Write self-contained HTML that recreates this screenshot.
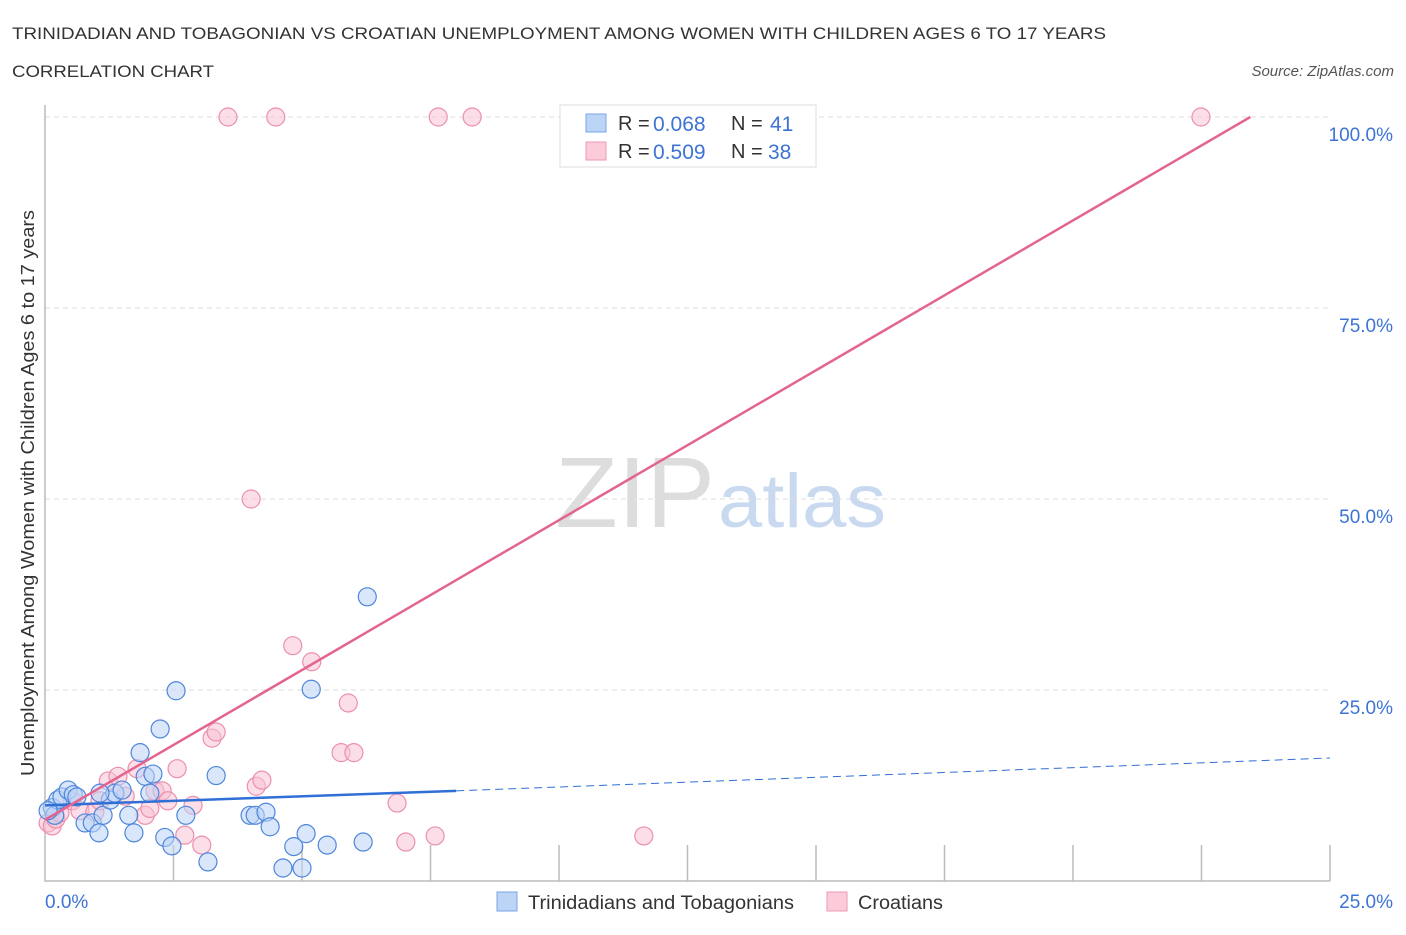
<!DOCTYPE html>
<html><head><meta charset="utf-8"><style>
body{margin:0;background:#fff;font-family:"Liberation Sans",sans-serif;}
svg text{font-family:"Liberation Sans",sans-serif;}
</style></head><body>
<svg width="1406" height="930" xmlns="http://www.w3.org/2000/svg">
<text x="12" y="39" font-size="17" fill="#333" textLength="1094" lengthAdjust="spacingAndGlyphs">TRINIDADIAN AND TOBAGONIAN VS CROATIAN UNEMPLOYMENT AMONG WOMEN WITH CHILDREN AGES 6 TO 17 YEARS</text>
<text x="12" y="77" font-size="17" fill="#333" textLength="202" lengthAdjust="spacingAndGlyphs">CORRELATION CHART</text>
<text x="1394" y="76" font-size="15" fill="#555" font-style="italic" text-anchor="end">Source: ZipAtlas.com</text>
<text x="555" y="527" font-size="100" fill="#ddd" font-family="Liberation Serif" textLength="160" lengthAdjust="spacingAndGlyphs">ZIP</text>
<text x="718" y="527" font-size="76" fill="#c9daf0" textLength="168" lengthAdjust="spacingAndGlyphs">atlas</text>
<g id="grid"></g>
<g id="axes"></g>
<g id="marks"></g>
<text transform="translate(34,493) rotate(-90)" font-size="18" fill="#333" text-anchor="middle" textLength="566" lengthAdjust="spacingAndGlyphs">Unemployment Among Women with Children Ages 6 to 17 years</text>
<text x="45" y="908" font-size="19" fill="#3d74d4">0.0%</text>
<text x="1393" y="908" font-size="19" fill="#3d74d4" text-anchor="end">25.0%</text>
<g>
<rect x="560" y="105" width="256" height="62" fill="#fff" stroke="#ddd"/>
<rect x="586" y="114" width="20" height="18" fill="#bcd4f5" stroke="#7aa6e6"/>
<rect x="586" y="142" width="20" height="18" fill="#fbcbd9" stroke="#ef9ab4"/>
<text x="618" y="130" font-size="20" fill="#333">R =</text>
<text x="653" y="131" font-size="21" fill="#3d74d4">0.068</text>
<text x="731" y="130" font-size="20" fill="#333">N =</text>
<text x="770" y="131" font-size="21" fill="#3d74d4">41</text>
<text x="618" y="158" font-size="20" fill="#333">R =</text>
<text x="653" y="159" font-size="21" fill="#3d74d4">0.509</text>
<text x="731" y="158" font-size="20" fill="#333">N =</text>
<text x="768" y="159" font-size="21" fill="#3d74d4">38</text>
</g>
<g>
<rect x="497" y="892" width="20" height="19" fill="#bcd4f5" stroke="#7aa6e6"/>
<text x="528" y="909" font-size="19" fill="#333" textLength="266" lengthAdjust="spacingAndGlyphs">Trinidadians and Tobagonians</text>
<rect x="827" y="892" width="20" height="19" fill="#fbcbd9" stroke="#ef9ab4"/>
<text x="858" y="909" font-size="19" fill="#333" textLength="85" lengthAdjust="spacingAndGlyphs">Croatians</text>
</g>
</svg>
<script>
const yTicks=[25,50,75,100];
const yTickLabels=["25.0%","50.0%","75.0%","100.0%"];
const xTicks=[2.5,5,7.5,10,12.5,15,17.5,20,22.5,25];
const blueX=[0.14,0.19,0.25,0.33,0.45,0.55,0.62,0.78,0.92,1.05,1.13,1.27,1.36,1.5,1.63,1.73,1.85,1.95,2.04,2.1,2.24,2.33,2.47,2.55,2.74,3.17,3.33,3.99,4.09,4.3,4.38,4.84,5.0,5.08,5.18,5.49,6.19,6.27,4.63,1.07,0.06];
const blueY=[9.6,8.6,10.6,11.0,11.9,11.3,11.0,7.6,7.6,6.3,8.6,10.6,11.5,11.9,8.6,6.3,16.8,13.7,11.5,14.0,19.9,5.7,4.6,24.9,8.6,2.5,13.8,8.6,8.6,9.0,7.1,4.5,1.7,6.2,25.1,4.7,5.1,37.2,1.7,11.5,9.2];
const pinkX=[0.06,0.14,0.21,0.29,0.53,0.68,0.97,1.07,1.23,1.42,1.56,1.79,1.95,2.04,2.14,2.28,2.39,2.57,2.72,2.88,3.05,3.25,3.33,3.56,4.01,4.11,4.22,4.49,4.82,5.19,5.76,5.9,6.01,6.85,7.02,7.59,7.65,8.31,11.65,22.49];
const pinkY=[7.6,7.2,8.1,8.9,10.5,9.2,9.0,10.5,13.1,13.7,11.1,14.7,8.6,9.5,11.8,11.8,10.5,14.7,6.0,9.9,4.7,18.7,19.5,100,50,12.4,13.2,100,30.8,28.7,16.8,23.3,16.8,10.2,5.1,5.9,100,100,5.9,100];
const blueLine=[0,9.9,8,11.8];const blueDash=[8,11.8,25,16.1];
const pinkLine=[0,8.0,23.45,100];
const L=45,R=1330,T=117,B=881;
const sx=v=>L+v/25*(R-L), sy=v=>B-v/100*(B-T);
const NS="http://www.w3.org/2000/svg";
function mk(p,tag,a){const e=document.createElementNS(NS,tag);for(const k in a)e.setAttribute(k,a[k]);document.getElementById(p).appendChild(e);return e;}
yTicks.forEach((t,i)=>{
 const g=mk('grid','line',{x1:L,x2:R,y1:sy(t),y2:sy(t),stroke:'#ddd','stroke-dasharray':'5,4'});
 
 
 const tx=mk('axes','text',{x:1393,y:sy(t)+24,'font-size':19,fill:'#3d74d4','text-anchor':'end'});
 tx.textContent=yTickLabels[i];
 
 
});
const ax=mk('axes','path',{d:`M${L},${T-12}V${B}H${R}`,fill:'none',stroke:'#bbb','stroke-width':1.5});


xTicks.forEach(t=>{
 const l=mk('axes','line',{x1:sx(t),x2:sx(t),y1:B,y2:B-36,stroke:'#bbb','stroke-width':1.5});
 
 
});
function dots(xs,ys,fill,stroke,name){xs.forEach((x,i)=>{
 const c=mk('marks','circle',{cx:sx(x),cy:sy(ys[i]),r:9,fill:fill,'fill-opacity':0.55,stroke:stroke,'stroke-width':1.2});
 
 
});}
dots(pinkX,pinkY,'#f8c3d3','#ec8fae','croatian-point');
dots(blueX,blueY,'#bcd4f5','#4d86dc','trinidadian-point');
let e=mk('marks','line',{x1:sx(blueLine[0]),y1:sy(blueLine[1]),x2:sx(blueLine[2]),y2:sy(blueLine[3]),stroke:'#2f6fd6','stroke-width':2.5});


e=mk('marks','line',{x1:sx(blueDash[0]),y1:sy(blueDash[1]),x2:sx(blueDash[2]),y2:sy(blueDash[3]),stroke:'#2f6fd6','stroke-width':1,'stroke-dasharray':'8,5'});


e=mk('marks','line',{x1:sx(pinkLine[0]),y1:sy(pinkLine[1]),x2:sx(pinkLine[2]),y2:sy(pinkLine[3]),stroke:'#e46490','stroke-width':2.5});


</script>
</body></html>
